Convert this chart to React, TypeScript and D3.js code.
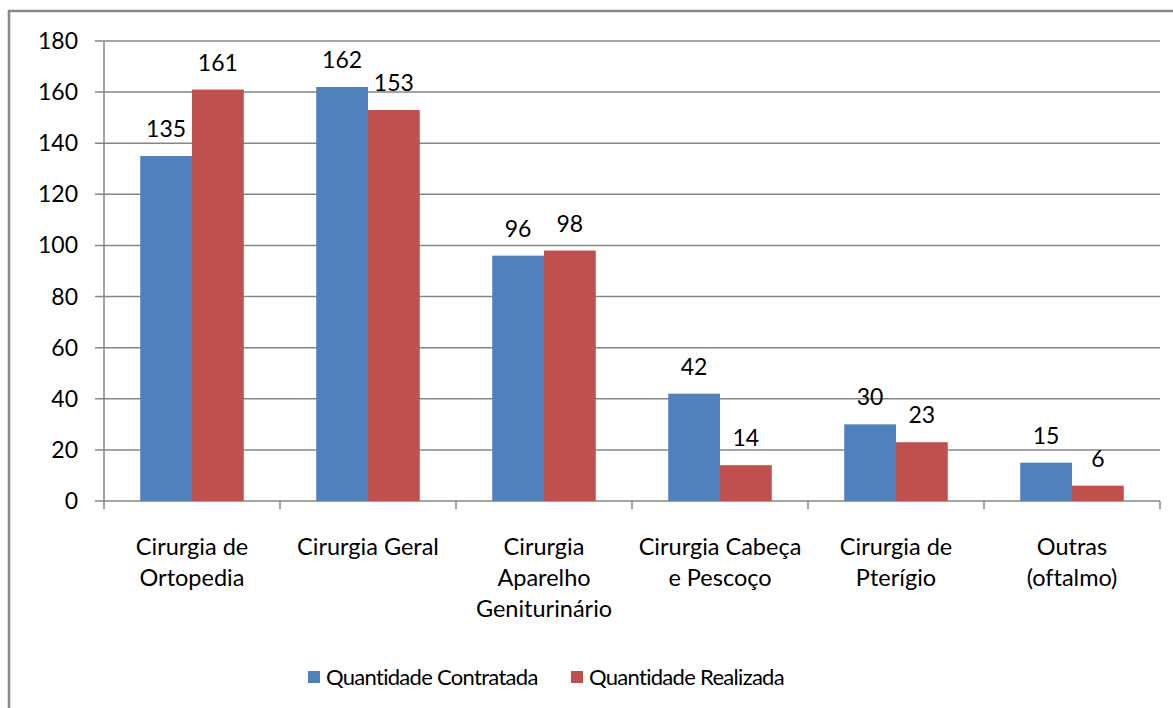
import { useEffect, useRef } from "react";
import * as d3 from "d3";

const categories = [
  "Cirurgia de Ortopedia",
  "Cirurgia Geral",
  "Cirurgia Aparelho Geniturinário",
  "Cirurgia Cabeça e Pescoço",
  "Cirurgia de Pterígio",
  "Outras (oftalmo)",
];
const categoryLines = [
  ["Cirurgia de", "Ortopedia"],
  ["Cirurgia Geral"],
  ["Cirurgia", "Aparelho", "Geniturinário"],
  ["Cirurgia Cabeça", "e Pescoço"],
  ["Cirurgia de", "Pterígio"],
  ["Outras", "(oftalmo)"],
];
const contratada = [135, 162, 96, 42, 30, 15];
const realizada = [161, 153, 98, 14, 23, 6];
const seriesNames = ["Quantidade Contratada", "Quantidade Realizada"];
const yTicks = [0, 20, 40, 60, 80, 100, 120, 140, 160, 180];

export default function App() {
  const ref = useRef<SVGSVGElement>(null);

  useEffect(() => {
    const width = 1173;
    const height = 708;
    const margin = { top: 41, right: 13, bottom: 207, left: 104 };
    const font = "Lato, 'Open Sans', sans-serif";
    const gridColor = "#868686";
    const colors = ["#4F81BD", "#C0504D"];

    const svg = d3.select(ref.current).attr("viewBox", `0 0 ${width} ${height}`);
    svg.selectAll("*").remove();

    // outer chart border, runs off the right and bottom edges
    svg
      .append("rect")
      .attr("x", 9)
      .attr("y", 11)
      .attr("width", width + 20)
      .attr("height", height + 20)
      .attr("fill", "#fff")
      .attr("stroke", "#898989")
      .attr("stroke-width", 2.5);

    const x = d3
      .scaleBand<string>()
      .domain(categories)
      .range([margin.left, width - margin.right]);

    const y = d3
      .scaleLinear()
      .domain([0, 180])
      .range([height - margin.bottom, margin.top]);

    const inner = d3
      .scaleBand<number>()
      .domain([0, 1])
      .range([0, x.bandwidth()])
      .paddingOuter(0.7)
      .paddingInner(0);

    // gridlines + y ticks
    svg
      .append("g")
      .selectAll("line")
      .data(yTicks)
      .join("line")
      .attr("x1", margin.left - 9)
      .attr("x2", width - margin.right)
      .attr("y1", d => y(d))
      .attr("y2", d => y(d))
      .attr("stroke", gridColor)
      .attr("stroke-width", 1.5);

    svg
      .append("g")
      .selectAll("text")
      .data(yTicks)
      .join("text")
      .attr("x", 78)
      .attr("y", d => y(d))
      .attr("dy", "0.35em")
      .attr("text-anchor", "end")
      .attr("font-family", font)
      .attr("font-size", 23)
      .text(d => d);

    // y axis line
    svg
      .append("line")
      .attr("x1", margin.left)
      .attr("x2", margin.left)
      .attr("y1", margin.top)
      .attr("y2", y(0))
      .attr("stroke", gridColor)
      .attr("stroke-width", 1.5);

    // category ticks
    const bounds = categories.map(c => x(c)!).concat([width - margin.right]);
    svg
      .append("g")
      .selectAll("line")
      .data(bounds)
      .join("line")
      .attr("x1", d => d)
      .attr("x2", d => d)
      .attr("y1", y(0))
      .attr("y2", y(0) + 8)
      .attr("stroke", gridColor)
      .attr("stroke-width", 1.5);

    const series = [contratada, realizada];
    series.forEach((vals, si) => {
      const g = svg.append("g");
      g.selectAll("rect")
        .data(vals)
        .join("rect")
        .attr("x", (d, i) => x(categories[i])! + inner(si)!)
        .attr("y", d => y(d))
        .attr("width", inner.bandwidth())
        .attr("height", d => y(0) - y(d))
        .attr("fill", colors[si]);
      g.selectAll("text")
        .data(vals)
        .join("text")
        .attr("x", (d, i) => x(categories[i])! + inner(si)! + inner.bandwidth() / 2)
        .attr("y", d => y(d) - 19)
        .attr("text-anchor", "middle")
        .attr("font-family", font)
        .attr("font-size", 23)
        .text(d => d);
    });

    // category labels
    const labels = svg.append("g");
    categoryLines.forEach((lines, i) => {
      const cx = x(categories[i])! + x.bandwidth() / 2;
      const t = labels
        .append("text")
        .attr("text-anchor", "middle")
        .attr("font-family", font)
        .attr("font-size", 23.5);
      lines.forEach((line, li) => {
        t.append("tspan")
          .attr("x", cx)
          .attr("y", 555 + li * 31)
          .text(line);
      });
    });

    // legend
    const legendX = [308, 571];
    const legend = svg.append("g");
    seriesNames.forEach((name, i) => {
      legend
        .append("rect")
        .attr("x", legendX[i])
        .attr("y", 671)
        .attr("width", 12)
        .attr("height", 12)
        .attr("fill", colors[i]);
      legend
        .append("text")
        .attr("x", legendX[i] + 18)
        .attr("y", 685)
        .attr("font-family", font)
        .attr("font-size", 22)
        .attr("letter-spacing", -0.7)
        .text(name);
    });
  }, []);

  return (
    <svg
      ref={ref}
      width={1173}
      height={708}
      style={{
        position: "absolute",
        left: 0,
        top: 0,
        display: "block",
        fontVariantLigatures: "none",
      }}
    />
  );
}
